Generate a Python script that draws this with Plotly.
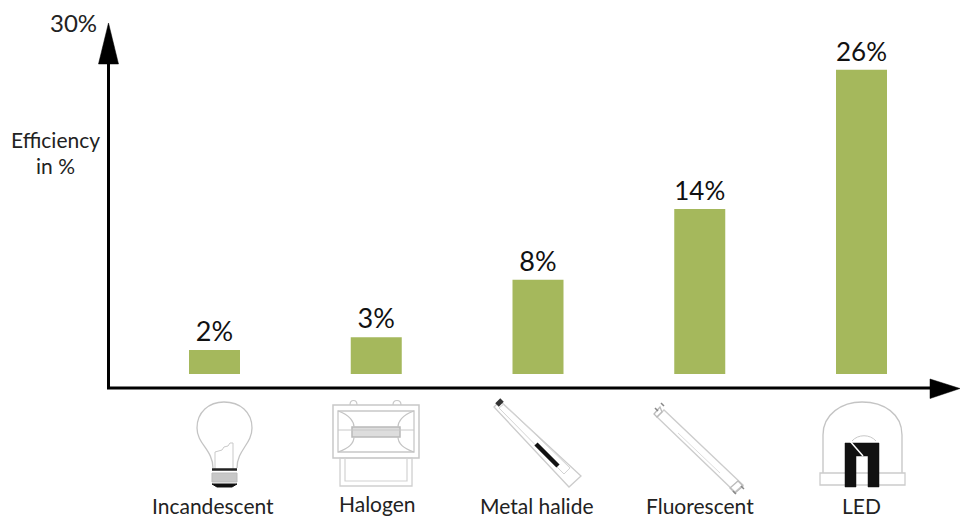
import plotly.graph_objects as go

categories = ["Incandescent", "Halogen", "Metal halide", "Fluorescent", "LED"]
efficiency = [2.05, 3.15, 8.05, 14.1, 26]
value_labels = ["2%", "3%", "8%", "14%", "26%"]
bar_color = "#a5b85c"
FONT = "Lato, 'Open Sans', sans-serif"
W, H = 960, 518


def P(x, y):
    return f"{x / W:.5f} {1 - y / H:.5f}"


def path(points, close=False):
    d = "M" + " L".join(P(x, y) for x, y in points)
    return d + (" Z" if close else "")


def curve(cmds):
    out = []
    for c in cmds:
        out.append(c[0] + " ".join(P(c[i], c[i + 1]) for i in range(1, len(c), 2)))
    return " ".join(out)


def shp(d, line="#c4c4c4", width=1.3, fill=None):
    s = dict(type="path", xref="paper", yref="paper", path=d,
             line=dict(color=line, width=width), layer="above")
    if fill:
        s["fillcolor"] = fill
    return s


shapes = []
# Axes
shapes.append(shp(path([(108.5, 388), (108.5, 60)]), "#000", 3))
shapes.append(shp(path([(108.5, 23), (118.5, 64), (98.5, 64)], True), "#000", 0.5, "#000"))
shapes.append(shp(path([(107, 388), (932, 388)]), "#000", 3))
shapes.append(shp(path([(930, 379), (960, 388.5), (930, 398.5)], True), "#000", 0.5, "#000"))

# Bulb
shapes.append(shp(curve([
    ("M", 213, 468), ("C", 213, 450, 197, 444, 197, 428),
    ("C", 197, 412, 209, 402, 224, 402), ("C", 240, 402, 252, 412, 252, 428),
    ("C", 252, 444, 237, 450, 237, 468)])))
shapes.append(shp(path([(215, 470), (215, 452), (222, 450), (224, 447), (228, 446), (230, 443), (233, 443), (233, 470)]), "#c9c9c9", 1))
shapes.append(shp(path([(212, 469.5), (237, 469.5)]), "#222", 2.5))
shapes.append(shp(path([(212, 473), (237, 473), (237, 482), (212, 482)], True), "#bbb", 1, "#c8c8c8"))
shapes.append(shp(path([(212, 484), (237, 484), (232, 487), (217, 487)], True), "#111", 1, "#111"))

# Halogen floodlight
shapes.append(shp(path([(333, 405), (419, 405), (419, 458), (333, 458)], True), "#c8c8c8", 1.5))
shapes.append(shp(path([(338, 411), (414, 411), (414, 452), (338, 452)], True), "#c8c8c8", 1.3))
shapes.append(shp(path([(340, 458), (412, 458), (412, 486), (340, 486)], True), "#cfcfcf", 1.3))
shapes.append(shp(path([(345, 458), (345, 481), (407, 481), (407, 458)]), "#d2d2d2", 1.2))
shapes.append(shp(path([(352, 427), (400, 427), (400, 437), (352, 437)], True), "#b9b9b9", 1.5, "#dddddd"))
shapes.append(shp(path([(338, 430), (414, 430)]), "#c8c8c8", 1))
shapes.append(shp(curve([("M", 338, 411), ("C", 350, 415, 354, 422, 354, 427)]), "#c4c4c4", 1.2))
shapes.append(shp(curve([("M", 338, 452), ("C", 350, 448, 354, 442, 354, 437)]), "#c4c4c4", 1.2))
shapes.append(shp(curve([("M", 414, 411), ("C", 402, 415, 398, 422, 398, 427)]), "#c4c4c4", 1.2))
shapes.append(shp(curve([("M", 414, 452), ("C", 402, 448, 398, 442, 398, 437)]), "#c4c4c4", 1.2))
shapes.append(shp(curve([("M", 350, 405), ("C", 350, 399, 357, 399, 357, 405)]), "#c8c8c8", 1.2))
shapes.append(shp(curve([("M", 393, 405), ("C", 393, 399, 401, 399, 401, 405)]), "#c8c8c8", 1.2))

# Metal halide
shapes.append(shp(path([(494, 407), (500, 401), (581, 476), (569, 487)], True), "#cccccc", 1.3))
shapes.append(shp(path([(499, 408), (504, 404), (570, 468), (564, 474)], True), "#d4d4d4", 1))
shapes.append(shp(path([(497, 405), (502, 400)]), "#333", 5))
shapes.append(shp(path([(536, 444), (558, 466)]), "#111", 4.5))

# Fluorescent
shapes.append(shp(path([(657, 417), (664, 410), (743, 485), (735, 492)], True), "#cccccc", 1.3))
shapes.append(shp(path([(662, 412), (657, 417), (654, 414), (660, 407)], True), "#bbbbbb", 1.3))
shapes.append(shp(path([(743, 486), (735, 493), (730, 488), (738, 481)], True), "#bbbbbb", 1.3))
shapes.append(shp(path([(658, 411), (655, 408)]), "#888", 1.5))
shapes.append(shp(path([(664, 406), (661, 403)]), "#888", 1.5))
shapes.append(shp(path([(733, 491), (736, 494)]), "#888", 1.5))
shapes.append(shp(path([(741, 486), (744, 489)]), "#888", 1.5))
shapes.append(shp(path([(678, 433), (720, 473)]), "#dddddd", 1))

# LED
shapes.append(shp(curve([
    ("M", 823, 473), ("L", 823, 435), ("C", 823, 414, 842, 402, 862, 402),
    ("C", 884, 402, 902, 414, 902, 435), ("L", 902, 473)])))
shapes.append(shp(path([(820, 473), (905, 473), (905, 485), (820, 485)], True), "#cccccc", 1.3))
shapes.append(shp(path([(845, 443), (879, 443), (879, 487), (868, 487), (868, 456), (856, 456), (856, 487), (845, 487)], True), "#111", 0.5, "#111"))
shapes.append(shp(path([(849, 440), (863, 456)]), "#ffffff", 1.5))
shapes.append(shp(curve([("M", 852, 441), ("C", 858, 434, 870, 434, 876, 441)]), "#c8c8c8", 1))

# Annotations
ann_y = [505.5, 503, 505.5, 505, 505.5]
ann_x = [213, 377, 536, 700, 861]
annotations = []
for name, xp, yp in zip(categories, ann_x, ann_y):
    annotations.append(dict(text=name, x=xp / W, y=1 - yp / H, xref="paper", yref="paper",
                            showarrow=False, xanchor="center", yanchor="middle",
                            font=dict(family=FONT, size=21, color="#222")))
annotations.append(dict(text="30%", x=73 / W, y=1 - 22 / H, xref="paper", yref="paper", showarrow=False,
                        xanchor="center", yanchor="middle", font=dict(family=FONT, size=24, color="#222")))
annotations.append(dict(text="Efficiency", x=55.5 / W, y=1 - 139.5 / H, xref="paper", yref="paper", showarrow=False,
                        xanchor="center", yanchor="middle", font=dict(family=FONT, size=21, color="#222")))
annotations.append(dict(text="in %", x=55.5 / W, y=1 - 165.5 / H, xref="paper", yref="paper", showarrow=False,
                        xanchor="center", yanchor="middle", font=dict(family=FONT, size=21, color="#222")))

fig = go.Figure(go.Bar(
    x=categories, y=efficiency, width=51 / 161.75, marker=dict(color=bar_color, line=dict(width=0)),
    text=value_labels, textposition="outside", cliponaxis=False,
    textfont=dict(family=FONT, size=27, color="#111"),
    hoverinfo="skip",
))
per_cat = 161.75
per_pct = 11.7
fig.update_layout(
    width=W, height=H, margin=dict(l=0, r=0, t=0, b=0), autosize=False,
    paper_bgcolor="white", plot_bgcolor="white", showlegend=False,
    xaxis=dict(type="category", categoryorder="array", categoryarray=categories,
               range=[-214.5 / per_cat, (W - 214.5) / per_cat], visible=False),
    yaxis=dict(range=[-(H - 374) / per_pct, 374 / per_pct], visible=False),
    shapes=shapes, annotations=annotations,
    uniformtext=dict(mode=False),
)
fig.write_html("out.html", config=dict(displayModeBar=False),
               post_script="document.body.style.margin='0';document.body.style.overflow='hidden';")
